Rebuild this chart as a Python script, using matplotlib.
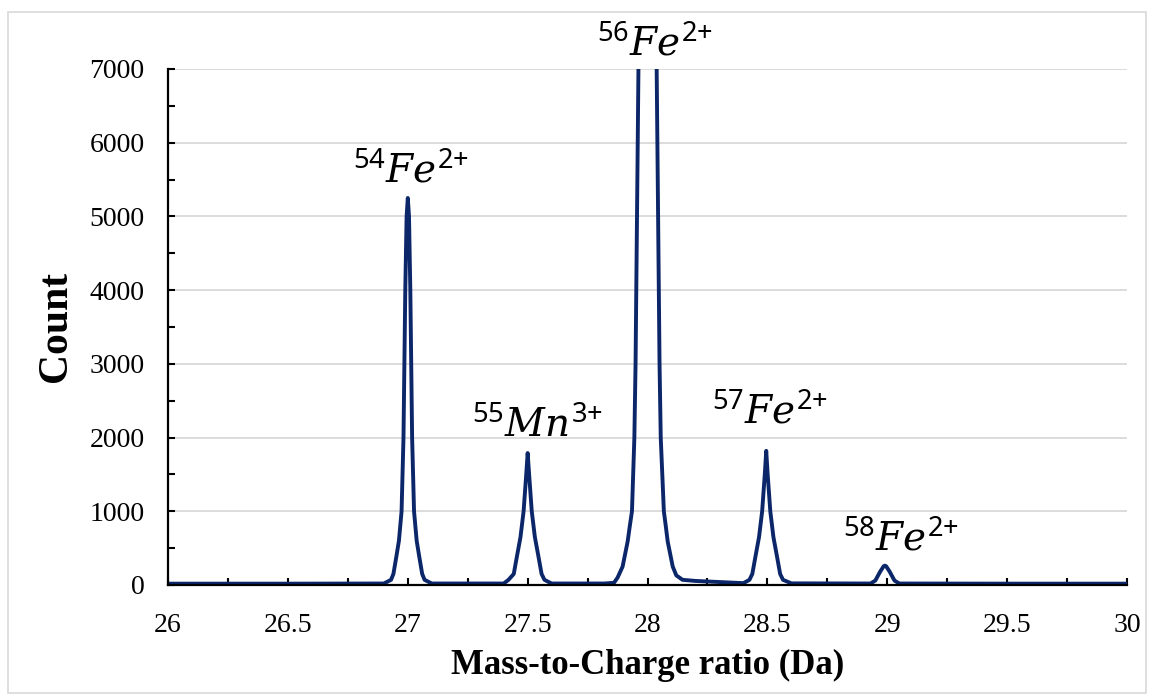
import matplotlib.pyplot as plt
from matplotlib.patches import Rectangle

# spectrum (mass-to-charge in Da, counts)
# the 56Fe peak runs off the top of the axis, its tip is a guess
mz = [26.0, 26.5, 26.9,
      26.93, 26.94, 26.952, 26.963, 26.974, 26.982, 26.9895, 26.995, 27.0,
      27.005, 27.0105, 27.018, 27.026, 27.037, 27.048, 27.06, 27.07, 27.1,
      27.4, 27.42, 27.442, 27.455, 27.47, 27.483, 27.494, 27.5, 27.506, 27.517,
      27.53, 27.545, 27.558, 27.57, 27.6,
      27.82, 27.86, 27.875, 27.896, 27.917, 27.926, 27.935, 27.945, 27.95, 27.956,
      27.962, 27.98, 28.0, 28.02, 28.038, 28.044, 28.05, 28.055, 28.068, 28.076,
      28.084, 28.105, 28.12, 28.146, 28.2, 28.3, 28.4,
      28.425, 28.437, 28.45, 28.465, 28.478, 28.489, 28.495, 28.501, 28.512,
      28.525, 28.54, 28.553, 28.565, 28.6,
      28.93, 28.95, 28.97, 28.985, 28.99, 28.995, 29.01, 29.03, 29.05,
      29.5, 30.0]
count = [18, 18, 20,
         70, 150, 380, 600, 1000, 2000, 4000, 5000, 5250,
         5000, 4000, 2000, 1000, 600, 380, 150, 70, 20,
         20, 70, 150, 385, 650, 1000, 1500, 1790, 1500, 1000,
         650, 385, 150, 70, 20,
         20, 30, 100, 250, 590, 800, 1000, 2000, 3000, 5000,
         7000, 12000, 20000, 12000, 7000, 5000, 3000, 2000, 1000, 800,
         590, 250, 130, 70, 55, 40, 25,
         70, 150, 385, 650, 1000, 1500, 1820, 1500, 1000,
         650, 385, 150, 70, 22,
         20, 60, 180, 255, 262, 255, 180, 60, 20,
         18, 18]

labels = [r'$^{54}Fe^{2{+}}$', r'$^{55}Mn^{3{+}}$', r'$^{56}Fe^{2{+}}$',
          r'$^{57}Fe^{2{+}}$', r'$^{58}Fe^{2{+}}$']
label_x = [27.015, 27.54, 28.03, 28.51, 29.055]
label_y = [5455, 2008, 7190, 2198, 475]

plt.rcParams['font.family'] = 'Liberation Serif'
plt.rcParams['mathtext.fontset'] = 'custom'
plt.rcParams['mathtext.rm'] = 'Noto Sans'
plt.rcParams['mathtext.it'] = 'DejaVu Serif:italic'

fig = plt.figure(figsize=(11.55, 6.96), dpi=100)
fig.patches.append(Rectangle((0.007, 0.005), 0.985, 0.978, transform=fig.transFigure,
                             fill=False, edgecolor='#d9d9d9', linewidth=1.2))
ax = fig.add_axes([0.1455, 0.1595, 0.8303, 0.7414])

ax.plot(mz, count, color='#0b2669', linewidth=2.8, solid_joinstyle='round')

ax.set_xlim(26, 30)
ax.set_ylim(0, 7000)
ax.set_xticks([26, 26.5, 27, 27.5, 28, 28.5, 29, 29.5, 30])
ax.set_xticklabels(['26', '26.5', '27', '27.5', '28', '28.5', '29', '29.5', '30'])
ax.set_xticks([26.25 + 0.5 * i for i in range(8)], minor=True)
ax.set_yticks(range(0, 7001, 1000))
ax.set_yticks(range(500, 7000, 1000), minor=True)
ax.tick_params(axis='both', which='both', direction='in', length=5, width=1.5,
               labelsize=20, color='black')
ax.tick_params(axis='y', pad=17)
ax.tick_params(axis='x', pad=20)

ax.grid(axis='y', color='#d9d9d9', linewidth=1.3)
ax.set_axisbelow(True)
for s in ['top', 'right']:
    ax.spines[s].set_visible(False)
for s in ['left', 'bottom']:
    ax.spines[s].set_linewidth(1.6)

ax.set_xlabel('Mass-to-Charge ratio (Da)', fontsize=25, fontweight='bold', labelpad=8)
ax.set_ylabel('Count', fontsize=30, fontweight='bold', labelpad=10)

for t, x, y in zip(labels, label_x, label_y):
    ax.text(x, y, t, fontsize=28, ha='center', va='baseline', clip_on=False)

fig.savefig('out.png', dpi=100)
